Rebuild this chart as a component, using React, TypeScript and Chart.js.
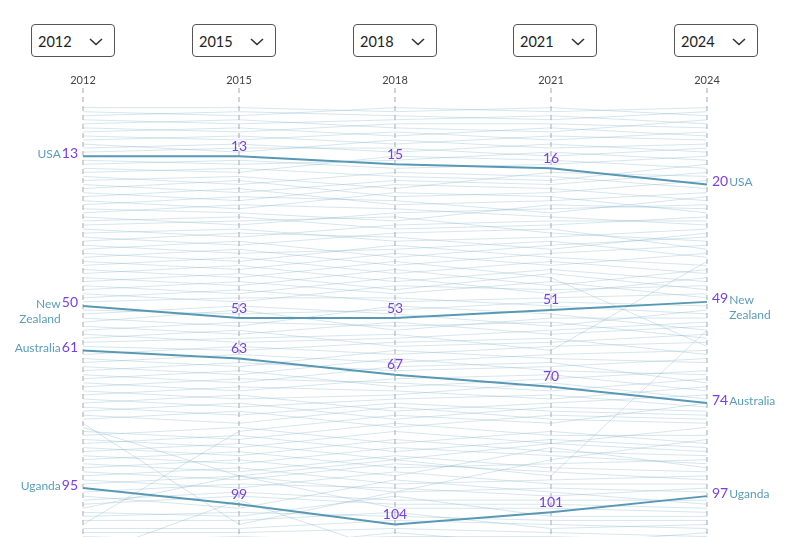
import React, { useEffect, useRef } from "react";
import { Chart, registerables } from "chart.js";

Chart.register(...registerables);

const years = ["2012", "2015", "2018", "2021", "2024"];

const usa = [13, 13, 15, 16, 20];
const newZealand = [50, 53, 53, 51, 49];
const australia = [61, 63, 67, 70, 74];
const uganda = [95, 99, 104, 101, 97];

const highlightNames = [["USA"], ["New", "Zealand"], ["Australia"], ["Uganda"]];
const highlightValues = [usa, newZealand, australia, uganda];

// background countries: rank in 2012, 2015, 2018, 2021, 2024
const others: number[][] = [
  [1, 1, 2, 1, 3], [2, 3, 1, 2, 1], [3, 2, 3, 4, 2], [4, 5, 4, 3, 5], [5, 4, 6, 7, 4],
  [6, 7, 5, 5, 6], [7, 6, 8, 6, 8], [8, 9, 7, 9, 7], [9, 8, 10, 8, 9], [10, 12, 9, 11, 10],
  [11, 10, 12, 10, 12], [12, 11, 11, 13, 11], [14, 15, 14, 12, 14], [15, 14, 16, 15, 13],
  [16, 17, 13, 14, 16], [17, 16, 18, 19, 15], [18, 20, 17, 18, 21], [19, 18, 21, 17, 18],
  [20, 22, 19, 20, 17], [21, 19, 23, 22, 19], [22, 24, 20, 21, 24], [23, 21, 25, 24, 22],
  [24, 26, 22, 23, 27], [25, 23, 24, 27, 23], [26, 27, 29, 25, 26], [27, 25, 26, 28, 30],
  [28, 30, 27, 26, 25], [29, 28, 31, 30, 28], [30, 29, 28, 32, 34], [31, 33, 30, 29, 29],
  [32, 31, 34, 33, 31], [33, 35, 32, 31, 36], [34, 32, 33, 36, 32], [35, 37, 36, 34, 38],
  [36, 34, 38, 35, 33], [37, 39, 35, 38, 40], [38, 36, 40, 37, 35], [39, 41, 37, 40, 37],
  [40, 38, 42, 39, 42], [41, 43, 39, 43, 60], [42, 40, 44, 41, 44], [43, 45, 41, 45, 41],
  [44, 42, 46, 42, 46], [45, 47, 43, 47, 43], [46, 44, 47, 44, 48], [47, 49, 45, 46, 45],
  [48, 46, 49, 48, 47], [49, 48, 48, 50, 52], [51, 52, 51, 49, 50], [52, 50, 52, 55, 51],
  [53, 55, 50, 52, 56], [54, 51, 56, 53, 53], [55, 57, 54, 57, 55], [56, 54, 55, 54, 58],
  [57, 59, 58, 56, 54], [58, 56, 60, 59, 57], [59, 58, 57, 61, 39], [60, 61, 59, 58, 62],
  [62, 60, 62, 60, 59], [63, 65, 61, 63, 64], [64, 62, 64, 62, 61], [65, 67, 63, 66, 67],
  [66, 64, 66, 65, 63], [67, 69, 65, 64, 69], [68, 66, 70, 68, 66], [69, 71, 68, 67, 71],
  [70, 68, 69, 71, 68], [71, 73, 72, 69, 73], [72, 70, 71, 73, 70], [73, 75, 73, 72, 75],
  [74, 72, 76, 74, 72], [75, 77, 74, 76, 77], [76, 74, 78, 75, 76], [77, 79, 75, 78, 79],
  [78, 76, 80, 77, 78], [79, 104, 96, 88, 83], [80, 92, 88, 84, 80], [81, 83, 79, 82, 82],
  [82, 80, 84, 81, 84], [83, 85, 81, 84, 86], [84, 82, 86, 83, 85], [85, 87, 83, 86, 87],
  [86, 84, 88, 92, 56], [87, 89, 85, 87, 89], [88, 86, 90, 89, 88], [89, 91, 87, 90, 91],
  [90, 88, 92, 85, 90], [91, 93, 89, 91, 93], [92, 90, 94, 93, 92], [93, 95, 91, 94, 94],
  [94, 92, 96, 95, 96], [96, 94, 95, 97, 95], [97, 100, 93, 96, 99], [98, 96, 98, 98, 98],
  [99, 97, 99, 99, 100], [100, 92, 100, 100, 101], [101, 102, 97, 102, 102],
  [102, 101, 102, 103, 103], [103, 103, 101, 105, 104], [104, 81, 77, 79, 74],
  [105, 105, 103, 104, 105], [106, 106, 105, 106, 107], [107, 108, 107, 107, 108],
  [108, 107, 108, 108, 109], [109, 110, 106, 109, 106], [110, 109, 110, 110, 110],
  [111, 111, 109, 111, 112], [112, 98, 111, 112, 111],
];

const PURPLE = "#7a3fe2";
const NAME_BLUE = "#5b9dbb";
const LINE_BLUE = "#5799b4";
const FONT = "Lato, 'Noto Sans', sans-serif";

const labelPlugin = {
  id: "rankLabels",
  afterDatasetsDraw(chart: any) {
    const ctx = chart.ctx as CanvasRenderingContext2D;
    ctx.save();
    highlightValues.forEach((vals, di) => {
      const meta = chart.getDatasetMeta(di);
      const last = vals.length - 1;
      meta.data.forEach((pt: any, i: number) => {
        const txt = String(vals[i]);
        const x = pt.x;
        const y = pt.y;
        ctx.font = `14px ${FONT}`;
        ctx.fillStyle = PURPLE;
        ctx.textBaseline = "middle";
        const vw = ctx.measureText(txt).width;
        if (i === 0) {
          ctx.textAlign = "right";
          ctx.fillText(txt, x - 5, y - 3);
          ctx.font = `12px ${FONT}`;
          ctx.fillStyle = NAME_BLUE;
          const nx = x - 5 - vw - 1;
          highlightNames[di].forEach((n, k) => {
            ctx.fillText(n, nx, y - 2 + k * 15);
          });
        } else if (i === last) {
          ctx.textAlign = "left";
          ctx.fillText(txt, x + 5, y - 3);
          ctx.font = `12px ${FONT}`;
          ctx.fillStyle = NAME_BLUE;
          const nx = x + 5 + vw + 1;
          highlightNames[di].forEach((n, k) => {
            ctx.fillText(n, nx, y - 2 + k * 15);
          });
        } else {
          ctx.textAlign = "center";
          ctx.fillText(txt, x, y - 10);
        }
      });
    });
    ctx.restore();
  },
};

const boxLefts = [31, 192, 353, 513, 674];

function Dropdown({ label, left }: { label: string; left: number }) {
  return (
    <div
      style={{
        position: "absolute",
        left,
        top: 24,
        width: 84,
        height: 33,
        boxSizing: "border-box",
        border: "1px solid #555",
        borderRadius: 4,
        background: "#fff",
        fontFamily: FONT,
        fontSize: 14.5,
        color: "#222",
        display: "flex",
        alignItems: "center",
        paddingLeft: 6,
        paddingTop: 2,
      }}
    >
      <span>{label}</span>
      <svg
        width="14"
        height="8"
        viewBox="0 0 14 8"
        style={{ position: "absolute", right: 11, top: 13 }}
      >
        <polyline points="1,1 7,6.5 13,1" fill="none" stroke="#333" strokeWidth="1.6" />
      </svg>
    </div>
  );
}

export default function App() {
  const ref = useRef<HTMLCanvasElement>(null);
  useEffect(() => {
    if (!ref.current) return;
    const datasets: any[] = [];
    highlightValues.forEach((vals, i) => {
      datasets.push({
        label: highlightNames[i].join(" "),
        data: vals,
        borderColor: LINE_BLUE,
        borderWidth: 2,
        pointRadius: 0,
        tension: 0,
      });
    });
    others.forEach((row, i) => {
      datasets.push({
        label: "c" + i,
        data: row,
        borderColor: "rgba(120,172,196,0.3)",
        borderWidth: 1,
        pointRadius: 0,
        tension: 0,
      });
    });
    const chart = new Chart(ref.current, {
      type: "line",
      data: { labels: years, datasets },
      options: {
        animation: false,
        responsive: false,
        events: [],
        layout: { padding: { left: 83, right: 98, top: 73, bottom: 0 } },
        plugins: { legend: { display: false }, tooltip: { enabled: false } },
        scales: {
          x: {
            type: "category",
            position: "top",
            offset: false,
            grid: { color: "#d4d4d4", lineWidth: 2, drawTicks: false, tickLength: 0 },
            border: { display: false, dash: [5, 4] },
            ticks: { color: "#444", font: { family: FONT, size: 11 }, padding: 1, maxRotation: 0 },
          },
          y: {
            display: false,
            reverse: true,
            min: -3.8,
            max: 107.1,
          },
        },
      },
      plugins: [labelPlugin],
    });
    return () => chart.destroy();
  }, []);
  return (
    <div style={{ position: "fixed", left: 0, top: 0, width: 805, height: 537, overflow: "hidden", background: "#fff" }}>
      <canvas ref={ref} width={805} height={537} style={{ position: "absolute", left: 0, top: 0 }} />
      {years.map((y, i) => (
        <Dropdown key={y} label={y} left={boxLefts[i]} />
      ))}
    </div>
  );
}
